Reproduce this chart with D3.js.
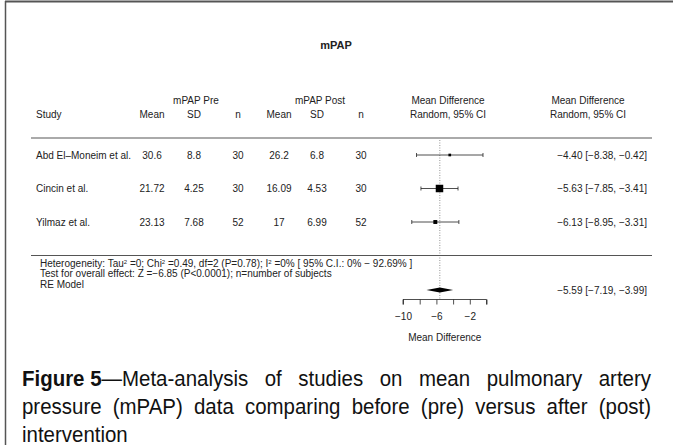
<!DOCTYPE html>
<html>
<head>
<meta charset="utf-8">
<script src="https://cdn.jsdelivr.net/npm/d3@7"></script>
<style>
  html, body { margin: 0; padding: 0; background: #fff; }
  svg { display: block; }
</style>
</head>
<body>
<svg id="chart" width="673" height="445"></svg>
<script>
// Study-level data for the mPAP forest plot
const studies = ["Abd El\u2013Moneim et al.", "Cincin et al.", "Yilmaz et al."];
const preMean = ["30.6", "21.72", "23.13"];
const preSD = ["8.8", "4.25", "7.68"];
const preN = ["30", "30", "52"];
const postMean = ["26.2", "16.09", "17"];
const postSD = ["6.8", "4.53", "6.99"];
const postN = ["30", "30", "52"];
const md = [-4.40, -5.63, -6.13];
const ciLow = [-8.38, -7.85, -8.95];
const ciHigh = [-0.42, -3.41, -3.31];
const weights = [14, 60, 26];   // relative study weights (%) for square size
const pooled = { est: -5.59, lo: -7.19, hi: -3.99 };
const axisTicks = [-10, -8, -6, -4, -2, 0];
const axisLabels = [-10, -6, -2];

const svg = d3.select("#chart");
const FONT = "'Liberation Sans', Arial, Helvetica, sans-serif";
const fs = 10;
const INK = "#222";

// outer frame (top and left rule)
svg.append("line").attr("x1", 5).attr("x2", 673).attr("y1", 1.5).attr("y2", 1.5)
  .attr("stroke", "#555").attr("stroke-width", 2);
svg.append("line").attr("x1", 5.5).attr("x2", 5.5).attr("y1", 1).attr("y2", 445)
  .attr("stroke", "#555").attr("stroke-width", 1.5);

const txt = (x, y, s, anchor = "middle", extra = {}) => svg.append("text")
  .attr("x", x).attr("y", y)
  .attr("text-anchor", anchor).attr("font-family", FONT)
  .attr("font-size", extra.size || fs).attr("fill", extra.fill || INK)
  .attr("font-weight", extra.weight || "normal").text(s);

// title
txt(336, 49, "mPAP", "middle", { weight: "bold", size: 11 });

// column positions
const colX = { study: 36, preMean: 152, preSD: 194, preN: 238, postMean: 279, postSD: 317, postN: 361, plot: 448, ann: 588, annRight: 647 };

// header
const h1 = 104, h2 = 118;
txt(196, h1, "mPAP Pre");
txt(320, h1, "mPAP Post");
txt(colX.plot, h1, "Mean Difference");
txt(colX.ann, h1, "Mean Difference");
txt(colX.study, h2, "Study", "start");
txt(colX.preMean, h2, "Mean");
txt(colX.preSD, h2, "SD");
txt(colX.preN, h2, "n");
txt(colX.postMean, h2, "Mean");
txt(colX.postSD, h2, "SD");
txt(colX.postN, h2, "n");
txt(colX.plot, h2, "Random, 95% CI");
txt(colX.ann, h2, "Random, 95% CI");

svg.append("line").attr("x1", 31).attr("x2", 652).attr("y1", 138).attr("y2", 138)
  .attr("stroke", "#aaa").attr("stroke-width", 2);

// scales
const x = d3.scaleLinear().domain([-10, 0]).range([403, 486.5]);
const y = d3.scalePoint().domain(studies).range([155, 222]);
const size = d3.scaleLinear().domain([0, 60]).range([1.2, 7.5]);

// reference line at pooled estimate
svg.append("line").attr("x1", x(pooled.est)).attr("x2", x(pooled.est))
  .attr("y1", 140).attr("y2", 299)
  .attr("stroke", "#777").attr("stroke-width", 0.8).attr("stroke-dasharray", "1,1.5");

const fmt = v => d3.format(".2f")(v).replace("-", "\u2212");
studies.forEach((s, i) => {
  const yy = y(s);
  const ty = yy + 3.5;
  txt(colX.study, ty, s, "start");
  txt(colX.preMean, ty, preMean[i]);
  txt(colX.preSD, ty, preSD[i]);
  txt(colX.preN, ty, preN[i]);
  txt(colX.postMean, ty, postMean[i]);
  txt(colX.postSD, ty, postSD[i]);
  txt(colX.postN, ty, postN[i]);
  txt(colX.annRight, ty, `${fmt(md[i])} [${fmt(ciLow[i])}, ${fmt(ciHigh[i])}]`, "end");

  // CI whisker
  svg.append("line").attr("x1", x(ciLow[i])).attr("x2", x(ciHigh[i]))
    .attr("y1", yy).attr("y2", yy).attr("stroke", INK).attr("stroke-width", 0.8);
  [ciLow[i], ciHigh[i]].forEach(v => {
    svg.append("line").attr("x1", x(v)).attr("x2", x(v))
      .attr("y1", yy - 2).attr("y2", yy + 2).attr("stroke", INK).attr("stroke-width", 0.8);
  });
  const w = size(weights[i]);
  svg.append("rect").attr("x", x(md[i]) - w / 2).attr("y", yy - w / 2)
    .attr("width", w).attr("height", w).attr("fill", "#000");
});

// summary section
svg.append("line").attr("x1", 31).attr("x2", 652).attr("y1", 255.5).attr("y2", 255.5)
  .attr("stroke", "#555").attr("stroke-width", 1);

const sfs = 10;
const het = txt(40, 266.5, "", "start", { size: sfs });
het.append("tspan").text("Heterogeneity: Tau");
het.append("tspan").attr("baseline-shift", "super").attr("font-size", 6).text("2");
het.append("tspan").text(" =0; Chi");
het.append("tspan").attr("baseline-shift", "super").attr("font-size", 6).text("2");
het.append("tspan").text(" =0.49, df=2 (P=0.78); I");
het.append("tspan").attr("baseline-shift", "super").attr("font-size", 6).text("2");
het.append("tspan").text(" =0% [ 95% C.I.: 0% \u2212 92.69% ]");
txt(40, 277, "Test for overall effect: Z =\u22126.85 (P<0.0001); n=number of subjects", "start", { size: sfs });
txt(40, 287.5, "RE Model", "start", { size: sfs });

const dy = 290;
svg.append("polygon")
  .attr("points", [[x(pooled.lo), dy], [x(pooled.est), dy - 2.5], [x(pooled.hi), dy], [x(pooled.est), dy + 2.5]].join(" "))
  .attr("fill", "#000");
txt(colX.annRight, dy + 3.5, `${fmt(pooled.est)} [${fmt(pooled.lo)}, ${fmt(pooled.hi)}]`, "end");

// x axis
const axisG = svg.append("g").attr("transform", "translate(0,299.5)");
axisG.call(d3.axisBottom(x).tickValues(axisTicks).tickSize(5)
  .tickFormat(d => axisLabels.includes(d) ? String(d).replace("-", "\u2212") : ""));
axisG.select(".domain").attr("d", `M${x(-10)},5V0H${x(0)}V5`).attr("stroke", INK).attr("stroke-width", 0.8);
axisG.selectAll(".tick line").attr("stroke", INK).attr("stroke-width", 0.8);
axisG.selectAll(".tick text").attr("font-family", FONT).attr("font-size", fs).attr("fill", INK)
  .attr("y", 13).attr("dy", "0.71em");
txt(x(-5), 341, "Mean Difference");

// caption, justified over the figure width (condensed face)
const capLines = [
  { words: ["Meta-analysis", "of", "studies", "on", "mean", "pulmonary", "artery"], bold: "Figure 5\u2014", justify: true },
  { words: ["pressure", "(mPAP)", "data", "comparing", "before", "(pre)", "versus", "after", "(post)"], justify: true },
  { words: ["intervention"], justify: false }
];
const capFont = "'Liberation Sans', Arial, sans-serif";
const capLeft = 22, capRight = 651, capSize = 22, squeeze = 0.93;
capLines.forEach((ln, li) => {
  const yy = 386 + li * 28;
  const g = svg.append("g").attr("transform", `translate(${capLeft},${yy}) scale(${squeeze},1)`);
  const items = [];
  ln.words.forEach((w, wi) => {
    const t = g.append("text").attr("y", 0).attr("font-family", capFont)
      .attr("font-size", capSize).attr("fill", "#111");
    if (wi === 0 && ln.bold) {
      t.append("tspan").attr("font-weight", "bold").text("Figure 5");
      t.append("tspan").text("\u2014" + w);
    } else {
      t.text(w);
    }
    items.push(t);
  });
  const widths = items.map(t => t.node().getComputedTextLength());
  const span = (capRight - capLeft) / squeeze;
  const gap = ln.justify && items.length > 1 ? (span - d3.sum(widths)) / (items.length - 1) : 6;
  let cx = 0;
  items.forEach((t, i) => { t.attr("x", cx); cx += widths[i] + gap; });
});
</script>
</body>
</html>
